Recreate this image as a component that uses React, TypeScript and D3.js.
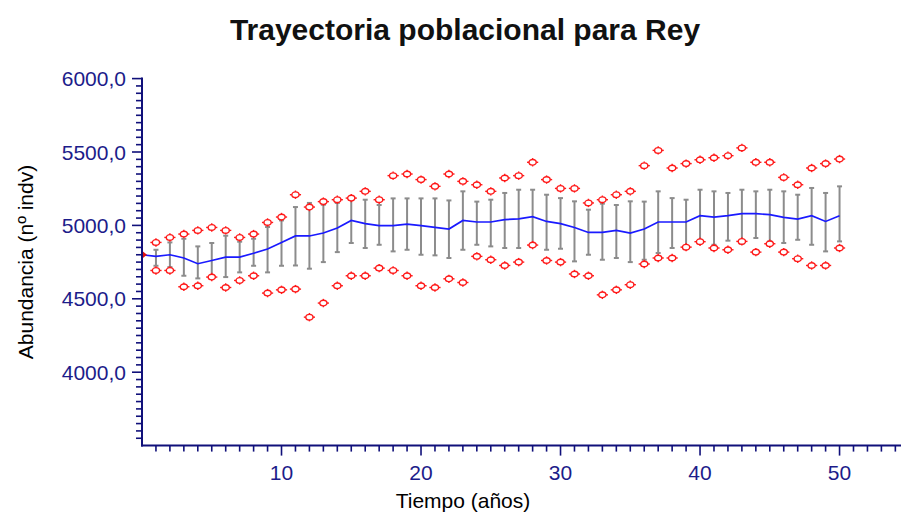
import React from "react";
import * as d3 from "d3";

const years = d3.range(0, 51);
const meanValues = [4800, 4789, 4800, 4778, 4739, 4761, 4784, 4784, 4810, 4839, 4884, 4928, 4928, 4948, 4982, 5034, 5012, 4998, 4998, 5009, 4998, 4986, 4975, 5034, 5023, 5023, 5039, 5045, 5059, 5027, 5012, 4986, 4952, 4952, 4966, 4948, 4975, 5023, 5023, 5023, 5066, 5057, 5066, 5080, 5080, 5073, 5055, 5043, 5066, 5027, 5066];
// error bars for years 1..50
const barHigh = [4834, 4884, 4909, 4857, 4880, 4930, 4889, 4909, 4989, 5034, 5125, 5153, 5141, 5153, 5194, 5175, 5139, 5184, 5184, 5184, 5184, 5170, 5232, 5162, 5175, 5221, 5243, 5243, 5209, 5186, 5164, 5107, 5148, 5139, 5164, 5162, 5232, 5186, 5175, 5243, 5232, 5221, 5243, 5232, 5243, 5232, 5209, 5255, 5221, 5266];
const barLow = [4725, 4716, 4657, 4639, 4657, 4648, 4680, 4725, 4680, 4725, 4727, 4705, 4750, 4818, 4880, 4846, 4868, 4823, 4834, 4800, 4796, 4778, 4834, 4868, 4857, 4846, 4846, 4857, 4834, 4841, 4755, 4800, 4766, 4778, 4750, 4766, 4812, 4846, 4857, 4902, 4868, 4896, 4875, 4914, 4891, 4880, 4902, 4868, 4823, 4891];
// extreme trajectories (markers) for years 1..50
const maxValues = [4884, 4918, 4941, 4966, 4986, 4966, 4918, 4941, 5020, 5057, 5209, 5125, 5162, 5175, 5186, 5232, 5175, 5339, 5350, 5312, 5266, 5350, 5300, 5277, 5232, 5323, 5339, 5430, 5312, 5252, 5252, 5153, 5175, 5209, 5232, 5407, 5511, 5391, 5421, 5447, 5461, 5475, 5528, 5430, 5430, 5327, 5277, 5391, 5421, 5452];
const minValues = [4693, 4693, 4582, 4589, 4648, 4577, 4625, 4657, 4539, 4561, 4566, 4375, 4471, 4589, 4657, 4657, 4709, 4693, 4657, 4589, 4577, 4636, 4611, 4789, 4766, 4727, 4750, 4866, 4761, 4750, 4669, 4657, 4527, 4561, 4596, 4737, 4778, 4778, 4852, 4889, 4846, 4834, 4891, 4818, 4875, 4818, 4773, 4727, 4727, 4846];
const initialValue = 4800;
const yTickValues = [4000, 4500, 5000, 5500, 6000];
const xTickValues = [10, 20, 30, 40, 50];

const title = "Trayectoria poblacional para Rey";
const xTitle = "Tiempo (años)";
const yTitle = "Abundancia (nº indv)";

const W = 901;
const H = 513;
const AXIS = "#10107a";
const LABEL = "#1c1c8a";
const FONT = "'Liberation Sans', Arial, sans-serif";

const x = d3.scaleLinear().domain([0, 55]).range([142, 909.3]);
const y = d3.scaleLinear().domain([3500, 6000]).range([445.6, 78.6]);

function Marker({ cx, cy }: { cx: number; cy: number }) {
  return (
    <g transform={`translate(${cx},${cy})`} stroke="#ff1a1a" strokeWidth={1.4} fill="#fff">
      <ellipse rx={3.6} ry={2.8} />
      <line x1={-5.6} x2={-3.6} y1={0} y2={0} />
      <line x1={3.6} x2={5.6} y1={0} y2={0} />
      <line x1={0} x2={0} y1={-4.2} y2={-2.8} />
      <line x1={0} x2={0} y1={2.8} y2={4.2} />
    </g>
  );
}

export default function App() {
  const line = d3
    .line<number>()
    .x((_, i) => x(years[i]))
    .y((d) => y(d));
  const yMinor = d3.range(3550, 6001, 50);
  const xMinor = d3.range(1, 55, 1);
  const fmt = (v: number) => d3.format(".1f")(v).replace(".", ",");
  const x0 = x(0);
  const yb = y(3500);
  return (
    <svg width={W} height={H} style={{ position: "absolute", left: 0, top: 0, background: "#fff" }} fontFamily={FONT}>
      <rect width={W} height={H} fill="#fff" />
      <text x={465} y={40} textAnchor="middle" fontSize={30} fontWeight="bold" fill="#111">
        {title}
      </text>
      {/* error bars */}
      <g stroke="#8c8c8c" strokeWidth={2}>
        {barHigh.map((hi, i) => {
          const t = years[i + 1];
          const cx = x(t);
          return (
            <g key={t}>
              <line x1={cx} x2={cx} y1={y(hi)} y2={y(barLow[i])} />
              <line x1={cx - 2.5} x2={cx + 2.5} y1={y(hi)} y2={y(hi)} />
              <line x1={cx - 2.5} x2={cx + 2.5} y1={y(barLow[i])} y2={y(barLow[i])} />
            </g>
          );
        })}
      </g>
      {/* mean line */}
      <path d={line(meanValues) || ""} fill="none" stroke="#1a1aff" strokeWidth={1.7} />
      {/* markers */}
      {maxValues.map((v, i) => (
        <Marker key={"mx" + i} cx={x(years[i + 1])} cy={y(v)} />
      ))}
      {minValues.map((v, i) => (
        <Marker key={"mn" + i} cx={x(years[i + 1])} cy={y(v)} />
      ))}
      <path d={`M${x0},${y(initialValue) - 4} L${x0 + 5},${y(initialValue)} L${x0},${y(initialValue) + 4} Z`} fill="#e01010" />
      {/* y axis */}
      <g stroke={AXIS} strokeWidth={2}>
        <line x1={x0} x2={x0} y1={y(6000) - 1} y2={yb + 1} />
        {yMinor.map((v) => (
          <line key={v} x1={v % 500 === 0 ? x0 - 10 : x0 - 6} x2={x0} y1={y(v)} y2={y(v)} strokeWidth={1.6} />
        ))}
      </g>
      {yTickValues.map((v) => (
        <text key={v} x={126} y={y(v)} dy="0.36em" textAnchor="end" fontSize={21} fill={LABEL}>
          {fmt(v)}
        </text>
      ))}
      {/* x axis */}
      <g stroke={AXIS} strokeWidth={2}>
        <line x1={x0 - 1} x2={W} y1={yb} y2={yb} />
        {xMinor.map((t) => (
          <line key={t} x1={x(t)} x2={x(t)} y1={yb} y2={t % 10 === 0 ? yb + 10 : yb + 6} strokeWidth={1.6} />
        ))}
      </g>
      {xTickValues.map((t) => (
        <text key={t} x={x(t)} y={480} textAnchor="middle" fontSize={21} fill={LABEL}>
          {t}
        </text>
      ))}
      <text x={463} y={508} textAnchor="middle" fontSize={21} fill="#000">
        {xTitle}
      </text>
      <text transform="translate(33,262) rotate(-90)" textAnchor="middle" fontSize={21} fill="#000">
        {yTitle}
      </text>
    </svg>
  );
}
